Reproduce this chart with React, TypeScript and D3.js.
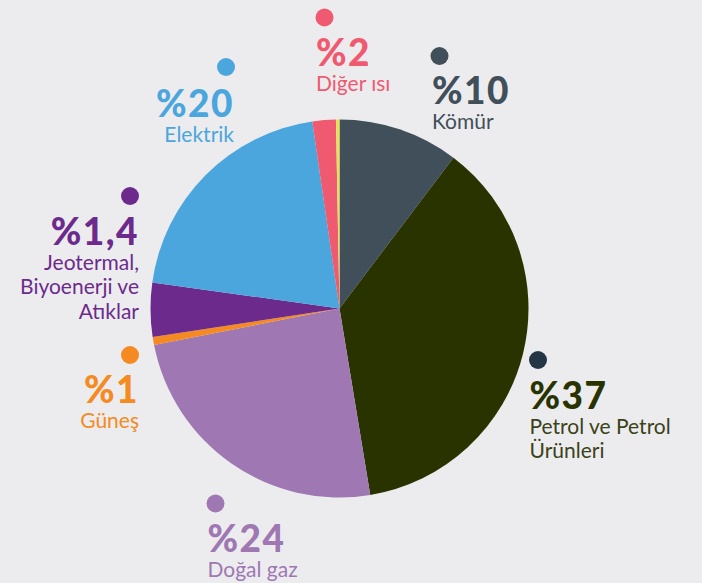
import React from "react";
import * as d3 from "d3";

// ---- data ----
const categories = [
  "Kömür",
  "Petrol ve Petrol Ürünleri",
  "Doğal gaz",
  "Güneş",
  "Jeotermal, Biyoenerji ve Atıklar",
  "Elektrik",
  "Diğer ısı",
  "Diğer",
];
// slice sizes as drawn in the picture (%)
const sliceValues = [10.3, 37.1, 24.5, 0.7, 4.6, 20.5, 2.0, 0.3];
// printed percentage labels
const percentLabels = ["%10", "%37", "%24", "%1", "%1,4", "%20", "%2", ""];
const nameLines = [
  ["Kömür"],
  ["Petrol ve Petrol", "Ürünleri"],
  ["Doğal gaz"],
  ["Güneş"],
  ["Jeotermal,", "Biyoenerji ve", "Atıklar"],
  ["Elektrik"],
  ["Diğer ısı"],
  [],
];

// ---- styles / layout ----
const W = 702;
const H = 583;
const BG = "#ececef";
const sliceColors = ["#414f5a", "#283300", "#9e77b3", "#f58a22", "#6c2a8c", "#4aa6dc", "#f05a70", "#e6e35a"];
const textColors = ["#414f5a", "#283300", "#9e77b3", "#f58a22", "#6c2a8c", "#4aa6dc", "#f05a70", "#000"];
const subColors = ["#414f5a", "#3a4218", "#9e77b3", "#f58a22", "#6c2a8c", "#4aa6dc", "#f05a70", "#000"];
const dotColors = ["#414f5a", "#243646", "#9e77b3", "#f58a22", "#6c2a8c", "#4aa6dc", "#f05a70", "#000"];

const cx = 339.5;
const cy = 308.5;
const R = 189;

// label layout: dot position, text anchor x, number baseline, anchor
const labelLayout = [
  { dx: 439.5, dy: 56, tx: 432, ny: 104, anchor: "start" },
  { dx: 538, dy: 360, tx: 529.5, ny: 409, anchor: "start" },
  { dx: 215.5, dy: 503.5, tx: 207.5, ny: 552, anchor: "start" },
  { dx: 130, dy: 355, tx: 139, ny: 403, anchor: "end" },
  { dx: 130, dy: 196, tx: 139, ny: 245, anchor: "end" },
  { dx: 226, dy: 67, tx: 234, ny: 117, anchor: "end" },
  { dx: 324.5, dy: 17.5, tx: 316, ny: 66, anchor: "start" },
  null,
];

const FONT = "Lato, 'Noto Sans', sans-serif";

export default function App() {
  const pie = d3
    .pie<number>()
    .sort(null)
    .startAngle(0)
    .endAngle(2 * Math.PI)
    .value((d) => d);
  const arcs = pie(sliceValues);
  const arc = d3.arc<d3.PieArcDatum<number>>().innerRadius(0).outerRadius(R);

  return (
    <div style={{ position: "fixed", left: 0, top: 0, width: W, height: H, background: BG }}>
      <svg width={W} height={H} style={{ display: "block" }} fontFamily={FONT}>
        <rect x={0} y={0} width={W} height={H} fill={BG} />
        <g transform={`translate(${cx},${cy})`}>
          {arcs.map((a, i) => (
            <path key={categories[i]} d={arc(a) || ""} fill={sliceColors[i]} />
          ))}
        </g>
        {labelLayout.map((L, i) => {
          if (!L) return null;
          return (
            <g key={"lbl" + i}>
              <circle cx={L.dx} cy={L.dy} r={9} fill={dotColors[i]} />
              <text
                x={L.tx}
                y={L.ny}
                textAnchor={L.anchor}
                fontSize={37}
                fontWeight={900}
                letterSpacing={1.5}
                fill={textColors[i]}
              >
                {percentLabels[i]}
              </text>
              {nameLines[i].map((ln, j) => (
                <text
                  key={j}
                  x={L.tx}
                  y={L.ny + 25 + j * 24.3}
                  textAnchor={L.anchor}
                  fontSize={21}
                  fill={subColors[i]}
                >
                  {ln}
                </text>
              ))}
            </g>
          );
        })}
      </svg>
    </div>
  );
}
